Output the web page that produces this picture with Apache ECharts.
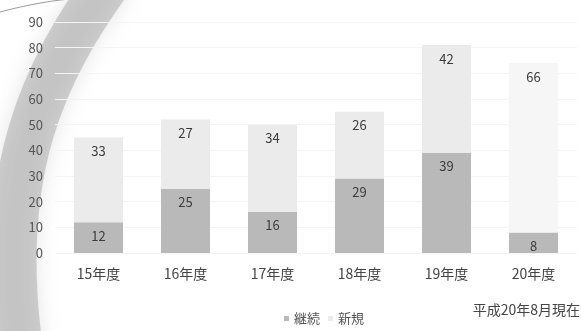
<!DOCTYPE html>
<html>
<head>
<meta charset="utf-8">
<script src="https://cdn.jsdelivr.net/npm/echarts@6/dist/echarts.min.js"></script>
<style>
  html, body { margin: 0; padding: 0; background: #fff; }
  #main { width: 581px; height: 331px; }
</style>
</head>
<body>
<div id="main"></div>
<script>
// 年度
var categories = ['15年度', '16年度', '17年度', '18年度', '19年度', '20年度'];
// 継続 (下段)
var keizoku = [12, 25, 16, 29, 39, 8];
// 新規 (上段)
var shinki = [33, 27, 34, 26, 42, 66];
var seriesNames = ['継続', '新規'];
var yTicks = [0, 10, 20, 30, 40, 50, 60, 70, 80, 90];

var chart = echarts.init(document.getElementById('main'));

var font = '"Noto Sans CJK JP", "Noto Sans", sans-serif';
var labelStyle = {
  show: true,
  position: 'insideTop',
  distance: 7,
  color: '#3c3c3c',
  fontSize: 13,
  fontFamily: font
};

// 新規は20年度だけ色が薄い
var shinkiData = shinki.map(function (v, i) {
  return i === shinki.length - 1 ? { value: v, itemStyle: { color: '#f6f6f6' } } : v;
});

var option = {
  backgroundColor: '#fff',
  animation: false,
  textStyle: { fontFamily: font },
  grid: { left: 55, right: 4, top: 22, bottom: 78 },
  legend: {
    data: seriesNames,
    bottom: 1,
    left: 279,
    itemWidth: 5,
    itemHeight: 5,
    itemGap: 8,
    icon: 'rect',
    textStyle: { color: '#555', fontSize: 13, fontFamily: font }
  },
  graphic: [
    {
      type: 'bezierCurve',
      z: -10,
      shape: { x1: 110, y1: -20, cpx1: 45, cpy1: 70, cpx2: -5, cpy2: 170, x2: 20, y2: 350 },
      style: { stroke: 'rgba(150,150,150,0.42)', lineWidth: 46, fill: null, shadowBlur: 20, shadowColor: 'rgba(130,130,130,0.5)' },
      silent: true
    },
    {
      type: 'bezierCurve',
      z: -9,
      shape: { x1: 0, y1: 12, cpx1: 30, cpy1: 4, cpx2: 55, cpy2: 0, x2: 80, y2: -2 },
      style: { stroke: 'rgba(90,90,90,0.6)', lineWidth: 1, fill: null },
      silent: true
    },
    {
      type: 'text',
      right: 1,
      top: 303,
      style: { text: '平成20年8月現在', fill: '#444', fontSize: 14, fontFamily: font }
    }
  ],
  xAxis: {
    type: 'category',
    data: categories,
    axisLine: { show: false },
    axisTick: { show: false },
    axisLabel: { color: '#444', fontSize: 14, margin: 14, fontFamily: font }
  },
  yAxis: {
    type: 'value',
    min: yTicks[0],
    max: yTicks[yTicks.length - 1],
    interval: 10,
    axisLine: { show: false },
    axisTick: { show: false },
    splitLine: { lineStyle: { color: '#f4f4f4', width: 1 } },
    axisLabel: { color: '#555', fontSize: 13, margin: 12, fontFamily: font }
  },
  series: [
    {
      name: seriesNames[0],
      type: 'bar',
      stack: 'total',
      barWidth: 49,
      itemStyle: { color: '#b9b9b9' },
      label: labelStyle,
      data: keizoku
    },
    {
      name: seriesNames[1],
      type: 'bar',
      stack: 'total',
      barWidth: 49,
      itemStyle: { color: '#ebebeb' },
      label: labelStyle,
      data: shinkiData
    }
  ]
};

chart.setOption(option);
</script>
</body>
</html>
